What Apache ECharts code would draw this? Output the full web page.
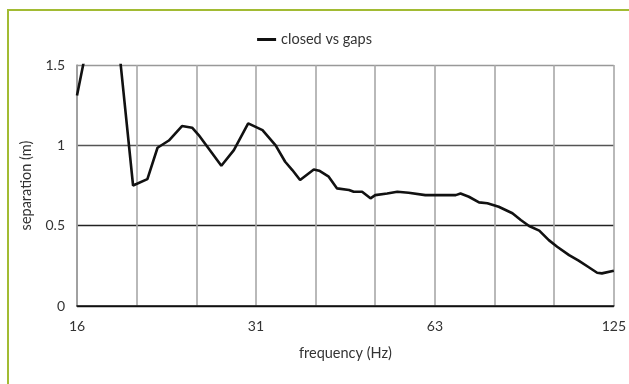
<!DOCTYPE html>
<html>
<head>
<meta charset="utf-8">
<script src="https://cdn.jsdelivr.net/npm/echarts@6/dist/echarts.min.js"></script>
<style>
html,body{margin:0;padding:0;background:#fff;width:629px;height:384px;overflow:hidden;}
#frame{position:absolute;left:7px;top:9px;width:640px;height:400px;border-left:2.5px solid #a2bb33;border-top:2.5px solid #a2bb33;box-sizing:border-box;}
#chart{position:absolute;left:0;top:0;width:629px;height:384px;}
</style>
</head>
<body>
<div id="frame"></div>
<div id="chart"></div>
<script>
// x positions in 1/3-octave band steps from 16 Hz (0 = 16 Hz, 3 = 31.5 Hz, 6 = 63 Hz, 9 = 125 Hz)
const bandPos = [0, 0.2, 0.45, 0.7, 0.94, 1.18, 1.35, 1.54, 1.76, 1.93, 2.04, 2.42, 2.63, 2.87, 3.11, 3.33, 3.49, 3.61, 3.74, 3.97, 4.06, 4.22, 4.36, 4.56, 4.64, 4.78, 4.92, 5.0, 5.2, 5.37, 5.56, 5.84, 6.07, 6.35, 6.43, 6.57, 6.74, 6.88, 7.07, 7.3, 7.44, 7.58, 7.75, 7.91, 8.05, 8.25, 8.41, 8.58, 8.72, 8.8, 9.0];
const separation = [1.31, 1.68, 1.8, 1.62, 0.75, 0.79, 0.985, 1.03, 1.12, 1.11, 1.064, 0.873, 0.97, 1.137, 1.095, 1.0, 0.898, 0.846, 0.784, 0.85, 0.842, 0.805, 0.732, 0.722, 0.711, 0.711, 0.67, 0.69, 0.70, 0.711, 0.705, 0.69, 0.69, 0.69, 0.70, 0.68, 0.645, 0.64, 0.618, 0.577, 0.535, 0.498, 0.469, 0.41, 0.369, 0.317, 0.282, 0.241, 0.207, 0.203, 0.22];
const xTickLabels = {0: '16', 3: '31', 6: '63', 9: '125'};
const yTicks = [0, 0.5, 1, 1.5];
const seriesName = 'closed vs gaps';

const chart = echarts.init(document.getElementById('chart'), null, {renderer: 'canvas'});
const font = 'Lato, "Open Sans", sans-serif';
chart.setOption({
  animation: false,
  backgroundColor: 'transparent',
  legend: {
    top: 27, left: 'center',
    data: [seriesName],
    itemWidth: 19, itemHeight: 3, itemGap: 6,
    icon: 'rect',
    textStyle: {fontFamily: font, fontSize: 14.5, color: '#333'}
  },
  grid: {left: 77, right: 14, top: 65, bottom: 78, containLabel: false},
  xAxis: {
    type: 'value', min: 0, max: 9, interval: 1,
    name: 'frequency (Hz)', nameLocation: 'middle', nameGap: 40,
    nameTextStyle: {fontFamily: font, fontSize: 14.5, color: '#333'},
    axisLine: {show: true, lineStyle: {color: '#111', width: 1.5}},
    axisTick: {show: false},
    axisLabel: {
      margin: 13, fontFamily: font, fontSize: 14, color: '#333',
      formatter: v => xTickLabels[v] || ''
    },
    splitLine: {show: true, lineStyle: {color: '#a8a8a8', width: 1.6}}
  },
  yAxis: {
    type: 'value', min: 0, max: 1.5, interval: 0.5,
    name: 'separation (m)', nameLocation: 'middle', nameGap: 43,
    nameTextStyle: {fontFamily: font, fontSize: 14.5, color: '#333'},
    axisLine: {show: true, lineStyle: {color: '#999', width: 1.5}},
    axisTick: {show: false},
    axisLabel: {margin: 12, fontFamily: font, fontSize: 14, color: '#333',
      formatter: v => yTicks.includes(v) ? String(v) : ''},
    splitLine: {show: true, lineStyle: {color: ['#111', '#222', '#555', '#999'], width: 1.4}}
  },
  series: [{
    name: seriesName,
    type: 'line',
    data: bandPos.map((x, i) => [x, separation[i]]),
    showSymbol: false,
    clip: true,
    lineStyle: {color: '#111', width: 2.6},
    itemStyle: {color: '#111'}
  }]
});
</script>
</body>
</html>
